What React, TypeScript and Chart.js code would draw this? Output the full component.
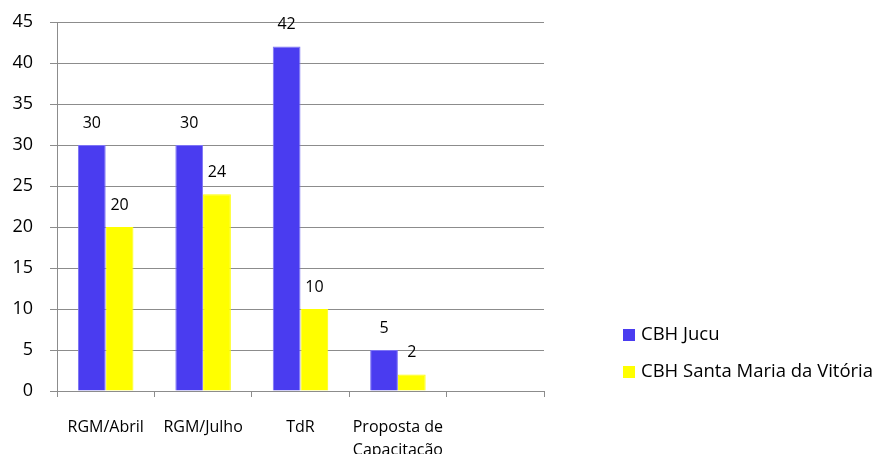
import React, { useEffect, useRef } from "react";
import { Chart, registerables } from "chart.js";

Chart.register(...registerables);

const categories: (string | string[])[] = [
  "RGM/Abril",
  "RGM/Julho",
  "TdR",
  ["Proposta de", "Capacitação"],
  "",
];
const jucuValues: (number | null)[] = [30, 30, 42, 5, null];
const smvValues: (number | null)[] = [20, 24, 10, 2, null];
const seriesNames = ["CBH Jucu", "CBH Santa Maria da Vitória"];
const seriesColors = ["#4a3cf0", "#ffff00"];
const seriesBorders = ["#7d74f4", "#ffff00"];
const yMin = 0;
const yMax = 45;
const yStep = 5;

const FONT = "'Open Sans', sans-serif";

const valueLabels = {
  id: "valueLabels",
  afterDatasetsDraw(chart: any) {
    const ctx = chart.ctx;
    ctx.save();
    ctx.font = `16px ${FONT}`;
    ctx.fillStyle = "#000";
    ctx.textAlign = "center";
    ctx.textBaseline = "middle";
    chart.data.datasets.forEach((ds: any, di: number) => {
      const meta = chart.getDatasetMeta(di);
      meta.data.forEach((bar: any, i: number) => {
        const v = ds.data[i];
        if (v === null || v === undefined) return;
        ctx.fillText(String(v), bar.x, bar.y - 22);
      });
    });
    ctx.restore();
  },
};

const sideLegend = {
  id: "sideLegend",
  afterDraw(chart: any) {
    const ctx = chart.ctx;
    ctx.save();
    ctx.font = `18.5px ${FONT}`;
    ctx.textAlign = "left";
    ctx.textBaseline = "middle";
    const x0 = chart.chartArea.right + 79;
    const ys = [335, 372];
    chart.data.datasets.forEach((ds: any, i: number) => {
      const y = ys[i];
      ctx.fillStyle = ds.backgroundColor;
      ctx.fillRect(x0, y - 6, 12, 12);
      ctx.fillStyle = "#000";
      ctx.fillText(ds.label, x0 + 18, y);
    });
    ctx.restore();
  },
};

export default function App() {
  const ref = useRef<HTMLCanvasElement>(null);
  useEffect(() => {
    if (!ref.current) return;
    const chart = new Chart(ref.current, {
      type: "bar",
      data: {
        labels: categories,
        datasets: [
          {
            label: seriesNames[0],
            data: jucuValues,
            backgroundColor: seriesColors[0],
            borderColor: seriesBorders[0],
            borderWidth: 1,
            categoryPercentage: 0.57,
            barPercentage: 1,
          },
          {
            label: seriesNames[1],
            data: smvValues,
            backgroundColor: seriesColors[1],
            borderColor: seriesBorders[1],
            borderWidth: 1,
            categoryPercentage: 0.57,
            barPercentage: 1,
          },
        ],
      },
      options: {
        responsive: false,
        animation: false,
        layout: { padding: { top: 22, right: 331, left: 0, bottom: 0 } },
        plugins: {
          legend: { display: false },
          tooltip: { enabled: false },
        },
        scales: {
          x: {
            grid: {
              display: true,
              drawOnChartArea: false,
              drawTicks: true,
              tickLength: 6,
              color: "#8c8c8c",
              offset: true,
            },
            border: { display: true, color: "#8c8c8c", width: 1 },
            ticks: {
              color: "#000",
              font: { family: FONT, size: 16, lineHeight: 1.45 },
              padding: 19,
              maxRotation: 0,
              autoSkip: false,
            },
            afterFit(scale: any) {
              scale.height = 63;
              scale.paddingLeft = 0;
              scale.paddingRight = 0;
            },
          },
          y: {
            min: yMin,
            max: yMax,
            ticks: {
              stepSize: yStep,
              color: "#000",
              font: { family: FONT, size: 18 },
              padding: 17,
            },
            grid: {
              color: "#8c8c8c",
              tickLength: 7,
              drawTicks: true,
            },
            border: { display: true, color: "#8c8c8c", width: 1 },
            afterFit(scale: any) {
              scale.width = 57;
              scale.paddingTop = 0;
              scale.paddingBottom = 0;
            },
          },
        },
      },
      plugins: [valueLabels, sideLegend],
    });
    return () => chart.destroy();
  }, []);
  return (
    <div style={{ position: "absolute", left: 0, top: 0, width: 875, height: 454, background: "#fff" }}>
      <canvas ref={ref} width={875} height={454} />
    </div>
  );
}
